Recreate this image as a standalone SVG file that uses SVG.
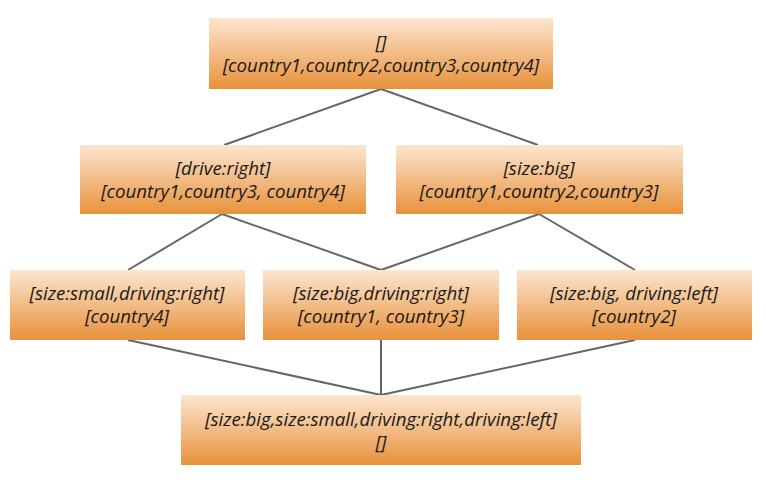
<svg xmlns="http://www.w3.org/2000/svg" width="766" height="483" viewBox="0 0 766 483">
<defs>
<linearGradient id="g" x1="0" y1="0" x2="0" y2="1">
<stop offset="0" stop-color="#fce6d0"/>
<stop offset="1" stop-color="#e8913a"/>
</linearGradient>
<style>
.n rect{fill:url(#g);}
.n text{font-family:"Open Sans","DejaVu Sans",sans-serif;font-style:italic;font-size:18.7px;fill:#1a1a1a;text-anchor:middle;}
.c line{stroke:#666;stroke-width:2;}
</style>
</defs>
<rect width="766" height="483" fill="#fff"/>
<g class="c">
<line x1="381" y1="89" x2="224" y2="145"/>
<line x1="381" y1="89" x2="538" y2="145"/>
<line x1="222" y1="214" x2="128" y2="270"/>
<line x1="222" y1="214" x2="381" y2="270"/>
<line x1="539" y1="214" x2="381" y2="270"/>
<line x1="539" y1="214" x2="635" y2="270"/>
<line x1="128" y1="340" x2="381" y2="395"/>
<line x1="381" y1="340" x2="381" y2="395"/>
<line x1="635" y1="340" x2="381" y2="395"/>
</g>
<g id="n0" class="n"><rect x="209" y="18" width="344" height="71"/>
<text x="381" y="49"><tspan x="381">[]</tspan><tspan x="381" dy="23">[country1,country2,country3,country4]</tspan></text></g>
<g id="n1" class="n"><rect x="80" y="145" width="286" height="69"/>
<text x="223" y="175"><tspan x="223">[drive:right]</tspan><tspan x="223" dy="23">[country1,country3, country4]</tspan></text></g>
<g id="n2" class="n"><rect x="396" y="145" width="287" height="69"/>
<text x="539" y="175"><tspan x="539">[size:big]</tspan><tspan x="539" dy="23">[country1,country2,country3]</tspan></text></g>
<g id="n3" class="n"><rect x="10" y="270" width="235" height="70"/>
<text x="127" y="300"><tspan x="127">[size:small,driving:right]</tspan><tspan x="127" dy="23">[country4]</tspan></text></g>
<g id="n4" class="n"><rect x="263" y="270" width="236" height="70"/>
<text x="381" y="300"><tspan x="381">[size:big,driving:right]</tspan><tspan x="381" dy="23">[country1, country3]</tspan></text></g>
<g id="n5" class="n"><rect x="517" y="270" width="235" height="70"/>
<text x="634" y="300"><tspan x="634">[size:big, driving:left]</tspan><tspan x="634" dy="23">[country2]</tspan></text></g>
<g id="n6" class="n"><rect x="181" y="395" width="400" height="70"/>
<text x="381" y="426"><tspan x="381">[size:big,size:small,driving:right,driving:left]</tspan><tspan x="381" dy="23">[]</tspan></text></g>
</svg>
